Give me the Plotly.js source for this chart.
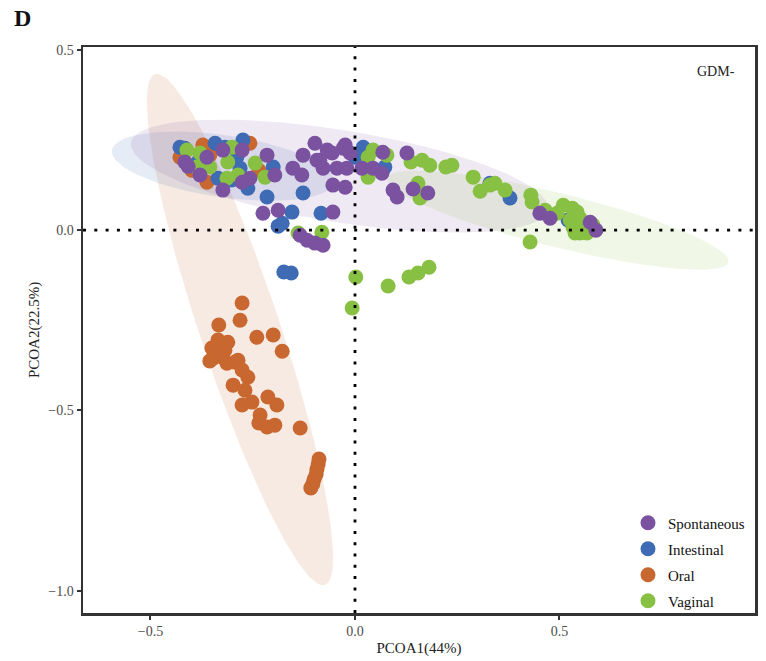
<!DOCTYPE html>
<html>
<head>
<meta charset="utf-8">
<script src="https://cdn.plot.ly/plotly-3.0.1.min.js"></script>
<style>
  html, body { margin: 0; padding: 0; background: #ffffff; }
  #chart { width: 766px; height: 661px; }
</style>
</head>
<body>
<div id="chart"></div>
<script>
// PCoA scores per sample site (PCOA1, PCOA2)
const groups = ["Spontaneous", "Intestinal", "Oral", "Vaginal"];

const spontaneousX = [-0.416, -0.408, -0.362, -0.323, -0.276, -0.379, -0.323, -0.276, -0.257, -0.215,
  -0.196, -0.152, -0.130, -0.127, -0.098, -0.068, -0.024, -0.093, -0.078, -0.056,
  -0.054, -0.024, -0.044, -0.020, -0.225, -0.188, -0.054, 0.068, 0.127, 0.017,
  0.044, 0.066, -0.029, -0.012, 0.093, 0.103, 0.142, 0.178, -0.134, -0.117,
  -0.098, -0.078, -0.086, 0.452, 0.477, 0.575, 0.589];
const spontaneousY = [0.189, 0.177, 0.202, 0.222, 0.222, 0.153, 0.111, 0.133, 0.144, 0.208,
  0.153, 0.172, 0.153, 0.208, 0.241, 0.222, 0.236, 0.194, 0.172, 0.214,
  0.125, 0.119, 0.172, 0.172, 0.047, 0.055, 0.050, 0.216, 0.214, 0.172,
  0.172, 0.158, 0.227, 0.214, 0.111, 0.092, 0.114, 0.103, -0.014, -0.028,
  -0.036, -0.042, 0.194, 0.047, 0.033, 0.022, 0.000];

const intestinalX = [-0.428, -0.416, -0.342, -0.318, -0.274, -0.289, -0.281, -0.301, -0.335, -0.384,
  -0.262, -0.200, -0.215, -0.127, -0.154, -0.083, -0.178, -0.188, 0.020, 0.000,
  0.073, 0.379, 0.330, 0.521, -0.174, -0.156];
const intestinalY = [0.230, 0.227, 0.241, 0.230, 0.250, 0.202, 0.172, 0.139, 0.144, 0.189,
  0.116, 0.175, 0.092, 0.103, 0.050, 0.047, 0.019, 0.011, 0.230, 0.202,
  0.175, 0.089, 0.130, 0.028, -0.116, -0.119];

const oralX = [-0.428, -0.399, -0.362, -0.372, -0.347, -0.355, -0.257, -0.235, -0.413,
  -0.276, -0.281, -0.333, -0.240, -0.200, -0.178, -0.335, -0.311, -0.350, -0.347,
  -0.355, -0.325, -0.313, -0.293, -0.286, -0.318, -0.276, -0.262, -0.298, -0.269,
  -0.252, -0.276, -0.213, -0.191, -0.232, -0.235, -0.215, -0.196, -0.134,
  -0.088, -0.090, -0.093, -0.095, -0.100, -0.103, -0.108];
const oralY = [0.202, 0.166, 0.133, 0.236, 0.233, 0.208, 0.241, 0.166, 0.222,
  -0.202, -0.250, -0.263, -0.297, -0.291, -0.336, -0.305, -0.311, -0.327, -0.355,
  -0.363, -0.352, -0.369, -0.366, -0.361, -0.333, -0.388, -0.408, -0.430, -0.444,
  -0.477, -0.485, -0.463, -0.485, -0.513, -0.535, -0.546, -0.541, -0.549,
  -0.635, -0.649, -0.663, -0.677, -0.691, -0.704, -0.715];

const vaginalX = [-0.411, -0.379, -0.355, -0.386, -0.311, -0.301, -0.313, -0.286, -0.244, -0.220,
  -0.139, -0.081, 0.032, 0.044, 0.078, 0.032, 0.137, 0.164, 0.183, 0.222,
  0.237, 0.289, 0.306, 0.330, 0.342, 0.367, 0.154, 0.159, 0.430, 0.433,
  0.465, 0.494, 0.509, 0.531, 0.543, 0.550, 0.526, 0.533, 0.550, 0.567,
  0.582, 0.557, 0.538, 0.428, 0.002, 0.081, 0.132, 0.154, 0.181, -0.007];
const vaginalY = [0.222, 0.214, 0.175, 0.175, 0.189, 0.230, 0.144, 0.153, 0.186, 0.147,
  -0.008, -0.006, 0.202, 0.222, 0.208, 0.147, 0.189, 0.194, 0.180, 0.175,
  0.180, 0.147, 0.108, 0.125, 0.130, 0.111, 0.130, 0.089, 0.097, 0.078,
  0.055, 0.047, 0.069, 0.061, 0.050, 0.033, 0.028, 0.008, -0.008, -0.008,
  0.014, 0.019, -0.008, -0.033, -0.130, -0.155, -0.130, -0.119, -0.103, -0.216];

// 95% confidence ellipses: centre and the two semi-axis vectors, in PCoA units
// (order follows `groups`)
const ellipseCentreX = [-0.0379, -0.3227, -0.2812, 0.4963];
const ellipseCentreY = [0.1498, 0.1775, -0.2759, 0.0277];
const ellipseMajorX = [0.5098, 0.2714, 0.2078, 0.4169];
const ellipseMajorY = [-0.0929, -0.0444, -0.7085, -0.1165];
const ellipseMinorX = [0.0178, 0.0108, 0.0928, 0.0158];
const ellipseMinorY = [0.1260, 0.0851, 0.0350, 0.0727];

const xTicks = [-0.5, 0.0, 0.5];
const yTicks = [-1.0, -0.5, 0.0, 0.5];

const colours = {
  Spontaneous: "#7B52A0",
  Intestinal: "#3E6BB4",
  Oral: "#C8672F",
  Vaginal: "#88C043"
};
const fills = {
  Spontaneous: "rgba(123,82,160,0.13)",
  Intestinal: "rgba(62,107,180,0.13)",
  Oral: "rgba(200,103,47,0.14)",
  Vaginal: "rgba(136,192,67,0.13)"
};

const points = {
  Spontaneous: [spontaneousX, spontaneousY],
  Intestinal: [intestinalX, intestinalY],
  Oral: [oralX, oralY],
  Vaginal: [vaginalX, vaginalY]
};

function ellipsePath(i) {
  const xs = [], ys = [];
  const n = 120;
  for (let k = 0; k <= n; k++) {
    const t = 2 * Math.PI * k / n;
    const c = Math.cos(t), s = Math.sin(t);
    xs.push(ellipseCentreX[i] + c * ellipseMajorX[i] + s * ellipseMinorX[i]);
    ys.push(ellipseCentreY[i] + c * ellipseMajorY[i] + s * ellipseMinorY[i]);
  }
  return [xs, ys];
}

const serif = "Liberation Serif, Times New Roman, serif";
const traces = [];

// ellipses underneath
["Oral", "Intestinal", "Spontaneous", "Vaginal"].forEach(g => {
  const i = groups.indexOf(g);
  const [ex, ey] = ellipsePath(i);
  traces.push({
    type: "scatter", mode: "lines", x: ex, y: ey,
    fill: "toself", fillcolor: fills[g],
    line: { width: 0, color: "rgba(0,0,0,0)" },
    hoverinfo: "skip", showlegend: false
  });
});

// sample points
["Oral", "Intestinal", "Vaginal", "Spontaneous"].forEach(g => {
  traces.push({
    type: "scatter", mode: "markers", name: g,
    x: points[g][0], y: points[g][1],
    marker: { size: 15, color: colours[g], line: { width: 0 } },
    legendgroup: g, legendrank: groups.indexOf(g) + 1
  });
});

const layout = {
  width: 766, height: 661,
  margin: { l: 83, r: 11, t: 47, b: 48, pad: 0 },
  paper_bgcolor: "#ffffff", plot_bgcolor: "#ffffff",
  font: { family: serif, size: 14, color: "#222222" },
  showlegend: true,
  legend: {
    x: 0.811, xanchor: "left", y: -0.008, yanchor: "bottom",
    traceorder: "grouped", tracegroupgap: 3.5,
    bgcolor: "rgba(255,255,255,0)", borderwidth: 0,
    font: { family: serif, size: 15, color: "#111111" }
  },
  xaxis: {
    range: [-0.665, 0.978], tickvals: xTicks, tickformat: ".1f",
    showgrid: false, zeroline: false,
    showline: true, mirror: true, linecolor: "#333333", linewidth: 2.5,
    ticks: "outside", ticklen: 4, tickwidth: 2, tickcolor: "#333333",
    tickfont: { family: serif, size: 14, color: "#4D4D4D" },
    title: { text: "PCOA1(44%)", font: { family: serif, size: 15, color: "#222222" }, standoff: 4 }
  },
  yaxis: {
    range: [-1.062, 0.508], tickvals: yTicks, tickformat: ".1f",
    showgrid: false, zeroline: false,
    showline: true, mirror: true, linecolor: "#333333", linewidth: 2.5,
    ticks: "outside", ticklen: 4, tickwidth: 2, tickcolor: "#333333",
    tickfont: { family: serif, size: 14, color: "#4D4D4D" },
    title: { text: "PCOA2(22.5%)", font: { family: serif, size: 15, color: "#222222" }, standoff: 5 }
  },
  shapes: [
    { type: "line", xref: "x", yref: "paper", x0: 0, x1: 0, y0: 0, y1: 1,
      line: { color: "#000000", width: 2.8, dash: "3px,8.3px" }, layer: "above" },
    { type: "line", xref: "paper", yref: "y", x0: 0, x1: 1, y0: 0, y1: 0,
      line: { color: "#000000", width: 2.8, dash: "3px,8.3px" }, layer: "above" }
  ],
  annotations: [
    { text: "<b>D</b>", xref: "paper", yref: "paper", x: -0.106, y: 1.051,
      xanchor: "left", yanchor: "middle", showarrow: false,
      font: { family: serif, size: 24, color: "#111111" } },
    { text: "GDM-", xref: "paper", yref: "paper", x: 0.973, y: 0.956,
      xanchor: "right", yanchor: "middle", showarrow: false,
      font: { family: serif, size: 14, color: "#222222" } }
  ]
};

Plotly.newPlot("chart", traces, layout, { displayModeBar: false, staticPlot: true });
</script>
</body>
</html>
